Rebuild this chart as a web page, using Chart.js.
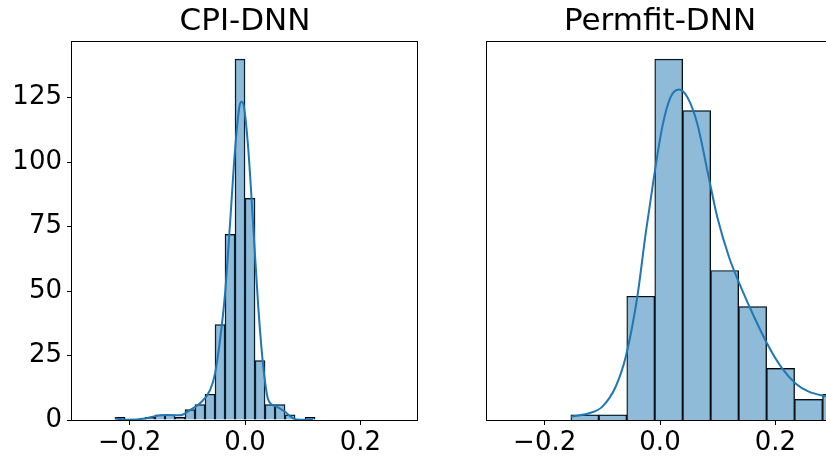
<!DOCTYPE html>
<html>
<head>
<meta charset="utf-8">
<script src="https://cdn.jsdelivr.net/npm/chart.js@4.4.1/dist/chart.umd.min.js"></script>
<style>
  html, body { margin: 0; padding: 0; background: #fff; overflow: hidden; width: 826px; height: 460px; }
  .panel { position: absolute; top: 0; height: 460px; }
  #cpi-box { left: 0; width: 440px; }
  #permfit-box { left: 467px; width: 400px; }
</style>
</head>
<body>
<div class="panel" id="cpi-box"><canvas id="cpi-chart" width="440" height="460"></canvas></div>
<div class="panel" id="permfit-box"><canvas id="permfit-chart" width="400" height="460"></canvas></div>

<script>
// Histogram bins (left edge of first bin + bin width) and counts per bin
const cpiBinStart = -0.2255;
const cpiBinWidth = 0.01735;
const cpiCounts = [1, 0, 0, 1, 2, 2, 1, 4, 6, 10, 37, 72, 140, 86, 23, 6, 6, 2, 0, 1];

// Kernel density estimate, scaled to counts
const cpiKdeX = [-0.225, -0.205, -0.173, -0.156, -0.136, -0.1126, -0.095, -0.078, -0.0606, -0.052, -0.0433,
  -0.0346, -0.026, -0.0173, -0.0098, -0.0058, -0.0017, 0.0058, 0.0144, 0.023, 0.0317, 0.0404, 0.0548,
  0.0693, 0.0837, 0.095, 0.118];
const cpiKdeY = [0.6, 0.1, 0.6, 1.5, 1.9, 1.8, 3.9, 6.5, 11.6, 18, 31,
  49, 76, 104.7, 121.4, 123.4, 121.4, 104.7, 74.9, 43.9, 20.7, 7.8, 5.2,
  3.2, 0.6, 0.1, 0.1];

const permfitBinStart = -0.1546;
const permfitBinWidth = 0.0485;
const permfitCounts = [2, 2, 48, 140, 120, 58, 44, 20, 8, 10];

const permfitKdeX = [-0.1546, -0.123, -0.1, -0.0767, -0.0594, -0.0393, -0.0248, -0.0104, 0.004, 0.0185,
  0.0329, 0.0473, 0.0646, 0.082, 0.0992, 0.1195, 0.1425, 0.1657, 0.1887, 0.2118, 0.235, 0.258, 0.2857, 0.30];
const permfitKdeY = [1.3, 2.6, 5.2, 13, 24.5, 47.8, 72.4, 94.3, 113.7, 125.3,
  128.2, 125.3, 115, 96.9, 78.8, 63.3, 50.4, 38.8, 28.4, 20, 14.2, 11, 9.3, 8.7];

const xTicks = [-0.2, 0, 0.2];
const yTicks = [0, 25, 50, 75, 100, 125];

const FONT = 'DejaVu Sans';

// Draws the axes box on top of everything, like the spines of a plot frame
const frame = {
  id: 'frame',
  afterDraw(chart) {
    const { ctx, chartArea: a } = chart;
    ctx.save();
    ctx.strokeStyle = '#000';
    ctx.lineWidth = 1;
    ctx.strokeRect(Math.round(a.left) - 0.5, Math.round(a.top) + 0.5,
      Math.round(a.right - a.left), Math.round(a.bottom - a.top));
    ctx.restore();
  }
};

function fmt(v) {
  return v < 0 ? '\u2212' + Math.abs(v).toFixed(1) : v.toFixed(1);
}

function setupHist(canvasId, title, binStart, binWidth, counts, kdeX, kdeY, showY, yWidth, padRight) {
  const bars = counts.map((c, i) => ({ x: binStart + (i + 0.5) * binWidth, y: c }));
  const kde = kdeX.map((x, i) => ({ x: x, y: kdeY[i] }));

  return new Chart(document.getElementById(canvasId).getContext('2d'), {
    type: 'bar',
    data: {
      datasets: [{
        type: 'line',
        data: kde,
        borderColor: '#1f77b4',
        borderWidth: 2,
        pointRadius: 0,
        cubicInterpolationMode: 'monotone',
        fill: false,
        order: 0
      }, {
        type: 'bar',
        data: bars,
        backgroundColor: 'rgba(31, 119, 180, 0.5)',
        borderColor: '#000',
        borderWidth: 0.8,
        barPercentage: 1,
        categoryPercentage: 1,
        order: 1
      }]
    },
    options: {
      responsive: false,
      animation: false,
      devicePixelRatio: 1,
      layout: { padding: { left: 0, right: padRight, top: 0, bottom: 0 } },
      plugins: {
        legend: { display: false },
        tooltip: { enabled: false },
        title: {
          display: true,
          text: title,
          fullSize: false,
          color: '#000',
          font: { family: FONT, size: 31, weight: 'normal' },
          padding: { top: 3.5, bottom: 0.3 }
        }
      },
      scales: {
        x: {
          type: 'linear',
          min: -0.3,
          max: 0.3,
          offset: false,
          afterBuildTicks: s => { s.ticks = xTicks.map(v => ({ value: v })); },
          afterFit: s => { s.height = 40; },
          border: { display: false },
          grid: { offset: false, drawOnChartArea: false, drawTicks: true, tickLength: 5, color: '#000', lineWidth: 1 },
          ticks: {
            color: '#000',
            font: { family: FONT, size: 26 },
            padding: 3,
            maxRotation: 0,
            callback: v => fmt(v)
          }
        },
        y: {
          min: 0,
          max: 147,
          afterBuildTicks: s => { s.ticks = yTicks.map(v => ({ value: v })); },
          afterFit: s => { s.width = yWidth; },
          border: { display: false },
          grid: { display: showY, drawOnChartArea: false, drawTicks: true, tickLength: 5, color: '#000', lineWidth: 1 },
          ticks: {
            display: showY,
            color: '#000',
            font: { family: FONT, size: 26 },
            padding: 5
          }
        }
      }
    },
    plugins: [frame]
  });
}

var cpiChart = setupHist('cpi-chart', 'CPI-DNN', cpiBinStart, cpiBinWidth, cpiCounts, cpiKdeX, cpiKdeY, true, 72, 22);
var permfitChart = setupHist('permfit-chart', 'Permfit-DNN', permfitBinStart, permfitBinWidth, permfitCounts, permfitKdeX, permfitKdeY, false, 20, 34);
</script>
</body>
</html>
